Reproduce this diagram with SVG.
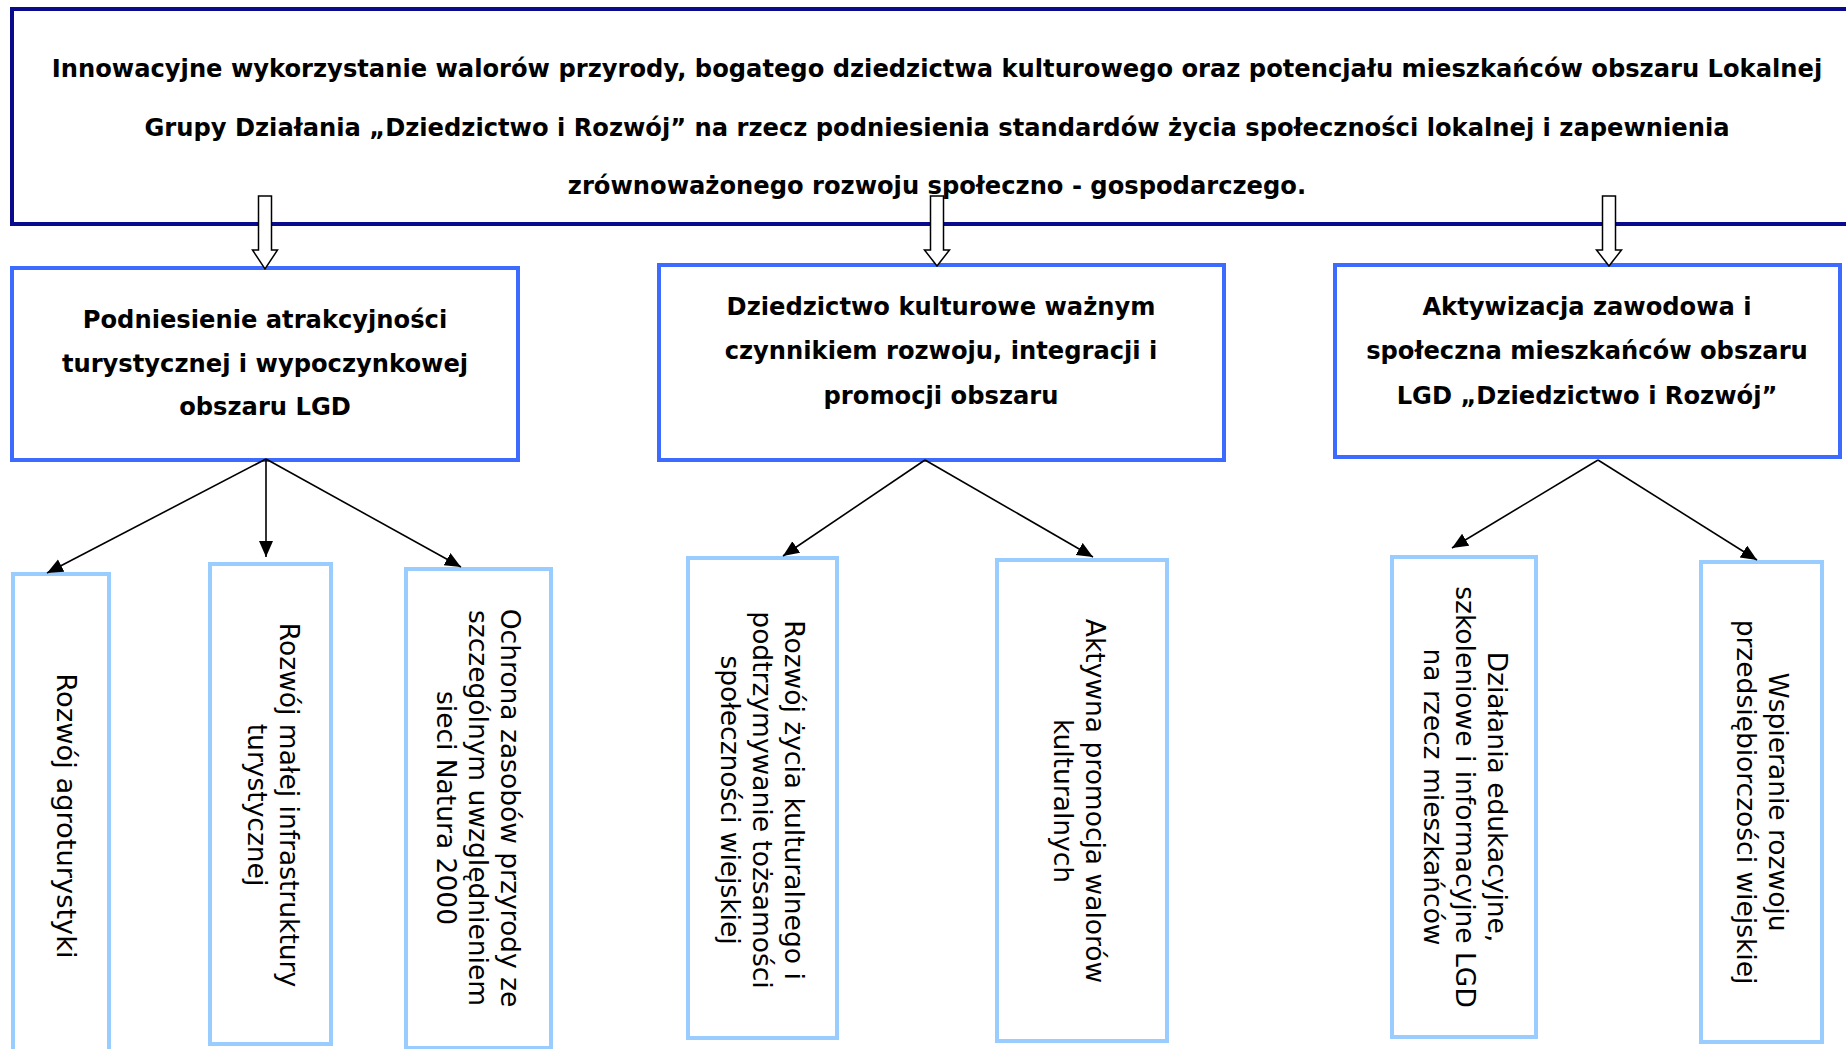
<svg xmlns="http://www.w3.org/2000/svg" width="1846" height="1049" viewBox="0 0 1846 1049">
<style>
.bg{fill:#ffffff}
.main{fill:#ffffff;stroke:#0a0a8c;stroke-width:4}
.goal{fill:#ffffff;stroke:#3d6bff;stroke-width:4}
.act{fill:#ffffff;stroke:#99ccff;stroke-width:4}
.t{font-family:"DejaVu Sans","Verdana",sans-serif;font-weight:bold;font-size:24.2px;fill:#000;text-anchor:middle}
.v{font-family:"DejaVu Sans","Verdana",sans-serif;font-size:26.5px;fill:#000;text-anchor:middle;dominant-baseline:central}
.con{fill:none;stroke:#000;stroke-width:1.6}
.hollow{fill:#ffffff;stroke:#000;stroke-width:1.5}
</style>
<defs>
<marker id="ah" markerUnits="userSpaceOnUse" markerWidth="18" markerHeight="16" refX="16" refY="7" orient="auto">
<path d="M0,0 L16,7 L0,14 Z" fill="#000"/>
</marker>
</defs>
<rect class="bg" x="0" y="0" width="1846" height="1049"/>

<g id="main">
<rect class="main" x="12" y="9" width="1850" height="215"/>
<text class="t" x="937" y="77">Innowacyjne wykorzystanie walorów przyrody, bogatego dziedzictwa kulturowego oraz potencjału mieszkańców obszaru Lokalnej</text>
<text class="t" x="937" y="136">Grupy Działania „Dziedzictwo i Rozwój” na rzecz podniesienia standardów życia społeczności lokalnej i zapewnienia</text>
<text class="t" x="937" y="194">zrównoważonego rozwoju społeczno - gospodarczego.</text>
</g>

<g id="goal1">
<rect class="goal" x="12" y="268" width="506" height="192"/>
<text class="t" x="265" y="328">Podniesienie atrakcyjności</text>
<text class="t" x="265" y="372">turystycznej i wypoczynkowej</text>
<text class="t" x="265" y="415">obszaru LGD</text>
</g>

<g id="goal2">
<rect class="goal" x="659" y="265" width="565" height="195"/>
<text class="t" x="941" y="315">Dziedzictwo kulturowe ważnym</text>
<text class="t" x="941" y="359">czynnikiem rozwoju, integracji i</text>
<text class="t" x="941" y="404">promocji obszaru</text>
</g>

<g id="goal3">
<rect class="goal" x="1335" y="265" width="505" height="192"/>
<text class="t" x="1587" y="315">Aktywizacja zawodowa i</text>
<text class="t" x="1587" y="359">społeczna mieszkańców obszaru</text>
<text class="t" x="1587" y="404">LGD „Dziedzictwo i Rozwój”</text>
</g>

<g id="act1">
<rect class="act" x="13" y="574" width="96" height="500"/>
<text class="v" transform="translate(67,816) rotate(90)" style="font-size:27.3px"><tspan x="0" y="0">Rozwój agroturystyki</tspan></text>
</g>

<g id="act2">
<rect class="act" x="210" y="564" width="121" height="480"/>
<text class="v" transform="translate(274,805) rotate(90)"><tspan x="0" y="-16">Rozwój małej infrastruktury</tspan><tspan x="0" y="16">turystycznej</tspan></text>
</g>

<g id="act3">
<rect class="act" x="406" y="569" width="145" height="479"/>
<text class="v" transform="translate(479,808) rotate(90)"><tspan x="0" y="-32">Ochrona zasobów przyrody ze</tspan><tspan x="0" y="0">szczególnym uwzględnieniem</tspan><tspan x="0" y="32">sieci Natura 2000</tspan></text>
</g>

<g id="act4">
<rect class="act" x="688" y="558" width="149" height="480"/>
<text class="v" transform="translate(763,800) rotate(90)"><tspan x="0" y="-32">Rozwój życia kulturalnego i</tspan><tspan x="0" y="0">podtrzymywanie tożsamości</tspan><tspan x="0" y="32">społeczności wiejskiej</tspan></text>
</g>

<g id="act5">
<rect class="act" x="997" y="560" width="170" height="481"/>
<text class="v" transform="translate(1080,801) rotate(90)"><tspan x="0" y="-16">Aktywna promocja walorów</tspan><tspan x="0" y="16">kulturalnych</tspan></text>
</g>

<g id="act6">
<rect class="act" x="1392" y="557" width="144" height="480"/>
<text class="v" transform="translate(1466,797) rotate(90)"><tspan x="0" y="-32">Działania edukacyjne,</tspan><tspan x="0" y="0">szkoleniowe i informacyjne LGD</tspan><tspan x="0" y="32">na rzecz mieszkańców</tspan></text>
</g>

<g id="act7">
<rect class="act" x="1701" y="562" width="121" height="480"/>
<text class="v" transform="translate(1763,802) rotate(90)"><tspan x="0" y="-16">Wspieranie rozwoju</tspan><tspan x="0" y="16">przedsiębiorczości wiejskiej</tspan></text>
</g>

<g id="connectors">
<path class="hollow" d="M258.5,196 H271.5 V250 H277.5 L265,269 L252.5,250 H258.5 Z"/>
<path class="hollow" d="M930.5,196 H943.5 V250 H949.5 L937,266 L924.5,250 H930.5 Z"/>
<path class="hollow" d="M1602.5,196 H1615.5 V250 H1621.5 L1609,266 L1596.5,250 H1602.5 Z"/>
<line class="con" x1="266" y1="459" x2="47" y2="573" marker-end="url(#ah)"/>
<line class="con" x1="266" y1="459" x2="266" y2="557" marker-end="url(#ah)"/>
<line class="con" x1="266" y1="459" x2="461" y2="567" marker-end="url(#ah)"/>
<line class="con" x1="925" y1="460" x2="783" y2="556" marker-end="url(#ah)"/>
<line class="con" x1="925" y1="460" x2="1093" y2="557" marker-end="url(#ah)"/>
<line class="con" x1="1598" y1="460" x2="1452" y2="548" marker-end="url(#ah)"/>
<line class="con" x1="1598" y1="460" x2="1757" y2="560" marker-end="url(#ah)"/>
</g>
</svg>
